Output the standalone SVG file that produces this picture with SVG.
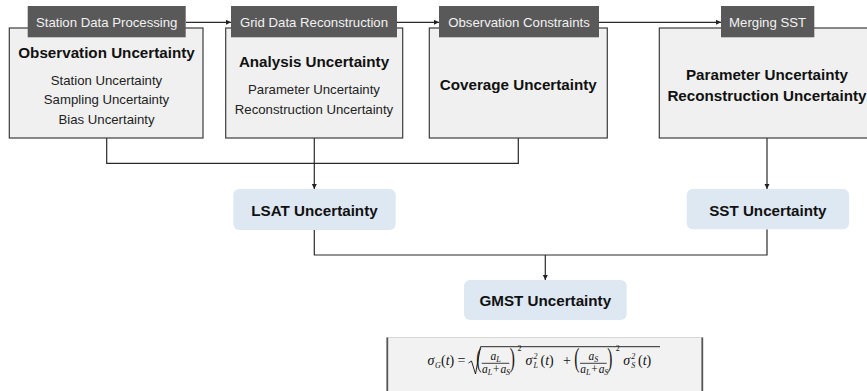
<svg xmlns="http://www.w3.org/2000/svg" width="867" height="391" viewBox="0 0 867 391">
<defs>
<marker id="arr" markerWidth="6" markerHeight="6" refX="5" refY="3" orient="auto" markerUnits="userSpaceOnUse">
<path d="M0,0.5 L5,3 L0,5.5 z" fill="#222"/>
</marker>
<style>
.box{fill:#f0f0f0;stroke:#3c3c3c;stroke-width:1.2}
.lab{fill:#595959}
.labt{font-family:"Liberation Sans",Arial,sans-serif;font-size:13.2px;fill:#f2f2f2;text-anchor:middle}
.h{font-family:"Liberation Sans",Arial,sans-serif;font-size:15.2px;font-weight:bold;fill:#111;text-anchor:middle}
.r{font-family:"Liberation Sans",Arial,sans-serif;font-size:13.2px;fill:#222;text-anchor:middle}
.blue{fill:#dee8f3}
.c{fill:none;stroke:#2a2a2a;stroke-width:1.2}
.m{font-family:"Liberation Serif","Times New Roman",serif;font-size:14px;fill:#111}
.f{font-family:"Liberation Serif","Times New Roman",serif;font-size:11.5px;fill:#111;font-style:italic}
.fn{font-family:"Liberation Serif","Times New Roman",serif;font-size:11.5px;fill:#111}
.mi{font-style:italic}
.s{font-family:"Liberation Serif","Times New Roman",serif;font-size:8px;fill:#111}
.p{font-size:28px;font-family:"Liberation Serif","Times New Roman",serif;fill:#111}
</style>
</defs>
<rect width="867" height="391" fill="#ffffff"/>

<g id="connectors">
<line class="c" x1="186" y1="22.3" x2="231" y2="22.3" marker-end="url(#arr)"/>
<line class="c" x1="397" y1="22.3" x2="439" y2="22.3" marker-end="url(#arr)"/>
<line class="c" x1="599" y1="22.3" x2="721" y2="22.3" marker-end="url(#arr)"/>
<polyline class="c" points="106.7,138 106.7,163.3 518.3,163.3 518.3,138"/>
<line class="c" x1="314.3" y1="138" x2="314.3" y2="189" marker-end="url(#arr)"/>
<line class="c" x1="767" y1="138" x2="767" y2="189" marker-end="url(#arr)"/>
<polyline class="c" points="314.3,230 314.3,255 767,255 767,229.3"/>
<line class="c" x1="545.3" y1="255" x2="545.3" y2="280" marker-end="url(#arr)"/>
</g>

<g id="node-observation">
<rect class="box" x="9.3" y="28" width="193.7" height="110"/>
<rect class="lab" x="27.7" y="6" width="158" height="31.3"/>
<text class="labt" x="106.7" y="27">Station Data Processing</text>
<text class="h" x="106.5" y="57.5">Observation Uncertainty</text>
<text class="r" x="106.5" y="84.5">Station Uncertainty</text>
<text class="r" x="106.5" y="104">Sampling Uncertainty</text>
<text class="r" x="106.5" y="123.5">Bias Uncertainty</text>
</g>

<g id="node-analysis">
<rect class="box" x="225.7" y="28" width="177" height="110"/>
<rect class="lab" x="231" y="6" width="166" height="31.3"/>
<text class="labt" x="314" y="27">Grid Data Reconstruction</text>
<text class="h" x="314" y="67">Analysis Uncertainty</text>
<text class="r" x="314" y="93.5">Parameter Uncertainty</text>
<text class="r" x="314" y="113.5">Reconstruction Uncertainty</text>
</g>

<g id="node-coverage">
<rect class="box" x="429.3" y="28" width="178" height="110"/>
<rect class="lab" x="439" y="6" width="160" height="31.3"/>
<text class="labt" x="519" y="27">Observation Constraints</text>
<text class="h" x="518.3" y="90">Coverage Uncertainty</text>
</g>

<g id="node-sst-merge">
<rect class="box" x="659.3" y="28" width="217" height="110"/>
<rect class="lab" x="721" y="6" width="93.3" height="31.3"/>
<text class="labt" x="767.6" y="27">Merging SST</text>
<text class="h" x="767" y="79.5">Parameter Uncertainty</text>
<text class="h" x="767" y="100.5">Reconstruction Uncertainty</text>
</g>

<g id="node-lsat">
<rect class="blue" x="233.3" y="189" width="162.4" height="41" rx="6"/>
<text class="h" x="314.5" y="216">LSAT Uncertainty</text>
</g>

<g id="node-sst">
<rect class="blue" x="686.7" y="189" width="162.3" height="40.3" rx="6"/>
<text class="h" x="767.8" y="215.5">SST Uncertainty</text>
</g>

<g id="node-gmst">
<rect class="blue" x="464" y="280" width="162.7" height="40" rx="6"/>
<text class="h" x="545.3" y="306">GMST Uncertainty</text>
</g>

<g id="formula">
<rect x="387.3" y="337.5" width="315" height="60" fill="#f2f2f2" stroke="#d0d0d0" stroke-width="0.8"/>
<line x1="387.3" y1="337.5" x2="387.3" y2="391" stroke="#555" stroke-width="1.8"/>
<line x1="702.3" y1="337.5" x2="702.3" y2="391" stroke="#555" stroke-width="1.8"/>
<text class="m mi" x="427.5" y="365">σ</text>
<text class="s mi" x="435" y="367.5">G</text>
<text class="m" x="441" y="365">(<tspan class="mi">t</tspan>)</text>
<text class="m" x="457.5" y="365">=</text>
<polyline points="468.5,363 471.5,361 475.5,374 480.5,346.7 660,346.7" fill="none" stroke="#111" stroke-width="0.9"/>
<text class="p" transform="translate(476.3,367) scale(0.55,1)">(</text>
<text class="f" x="490.5" y="360">a</text>
<text class="s mi" x="496.3" y="362">L</text>
<line x1="481.7" y1="363.3" x2="509.3" y2="363.3" stroke="#111" stroke-width="0.8"/>
<text class="f" x="482" y="372.5">a</text>
<text class="s mi" x="487.7" y="374.5">L</text>
<text class="fn" x="493" y="372.5">+</text>
<text class="f" x="500.5" y="372.5">a</text>
<text class="s mi" x="506" y="374.5">S</text>
<text class="p" transform="translate(509.8,367) scale(0.55,1)">)</text>
<text class="s" x="517.5" y="351">2</text>
<text class="m mi" x="525.5" y="365">σ</text>
<text class="s mi" x="533.5" y="358.5">2</text>
<text class="s mi" x="533.5" y="368">L</text>
<text class="m" x="540.5" y="365">(<tspan class="mi">t</tspan>)</text>
<text class="m" x="563" y="365">+</text>
<text class="p" transform="translate(574.3,367) scale(0.55,1)">(</text>
<text class="f" x="588.5" y="360">a</text>
<text class="s mi" x="594.3" y="362">S</text>
<line x1="580" y1="363.3" x2="606.7" y2="363.3" stroke="#111" stroke-width="0.8"/>
<text class="f" x="580.3" y="372.5">a</text>
<text class="s mi" x="586" y="374.5">L</text>
<text class="fn" x="591.3" y="372.5">+</text>
<text class="f" x="598.8" y="372.5">a</text>
<text class="s mi" x="604.3" y="374.5">S</text>
<text class="p" transform="translate(607.2,367) scale(0.55,1)">)</text>
<text class="s" x="615.7" y="351">2</text>
<text class="m mi" x="623.3" y="365">σ</text>
<text class="s mi" x="631.3" y="358.5">2</text>
<text class="s mi" x="631.3" y="368">S</text>
<text class="m" x="638" y="365">(<tspan class="mi">t</tspan>)</text>
</g>
</svg>
